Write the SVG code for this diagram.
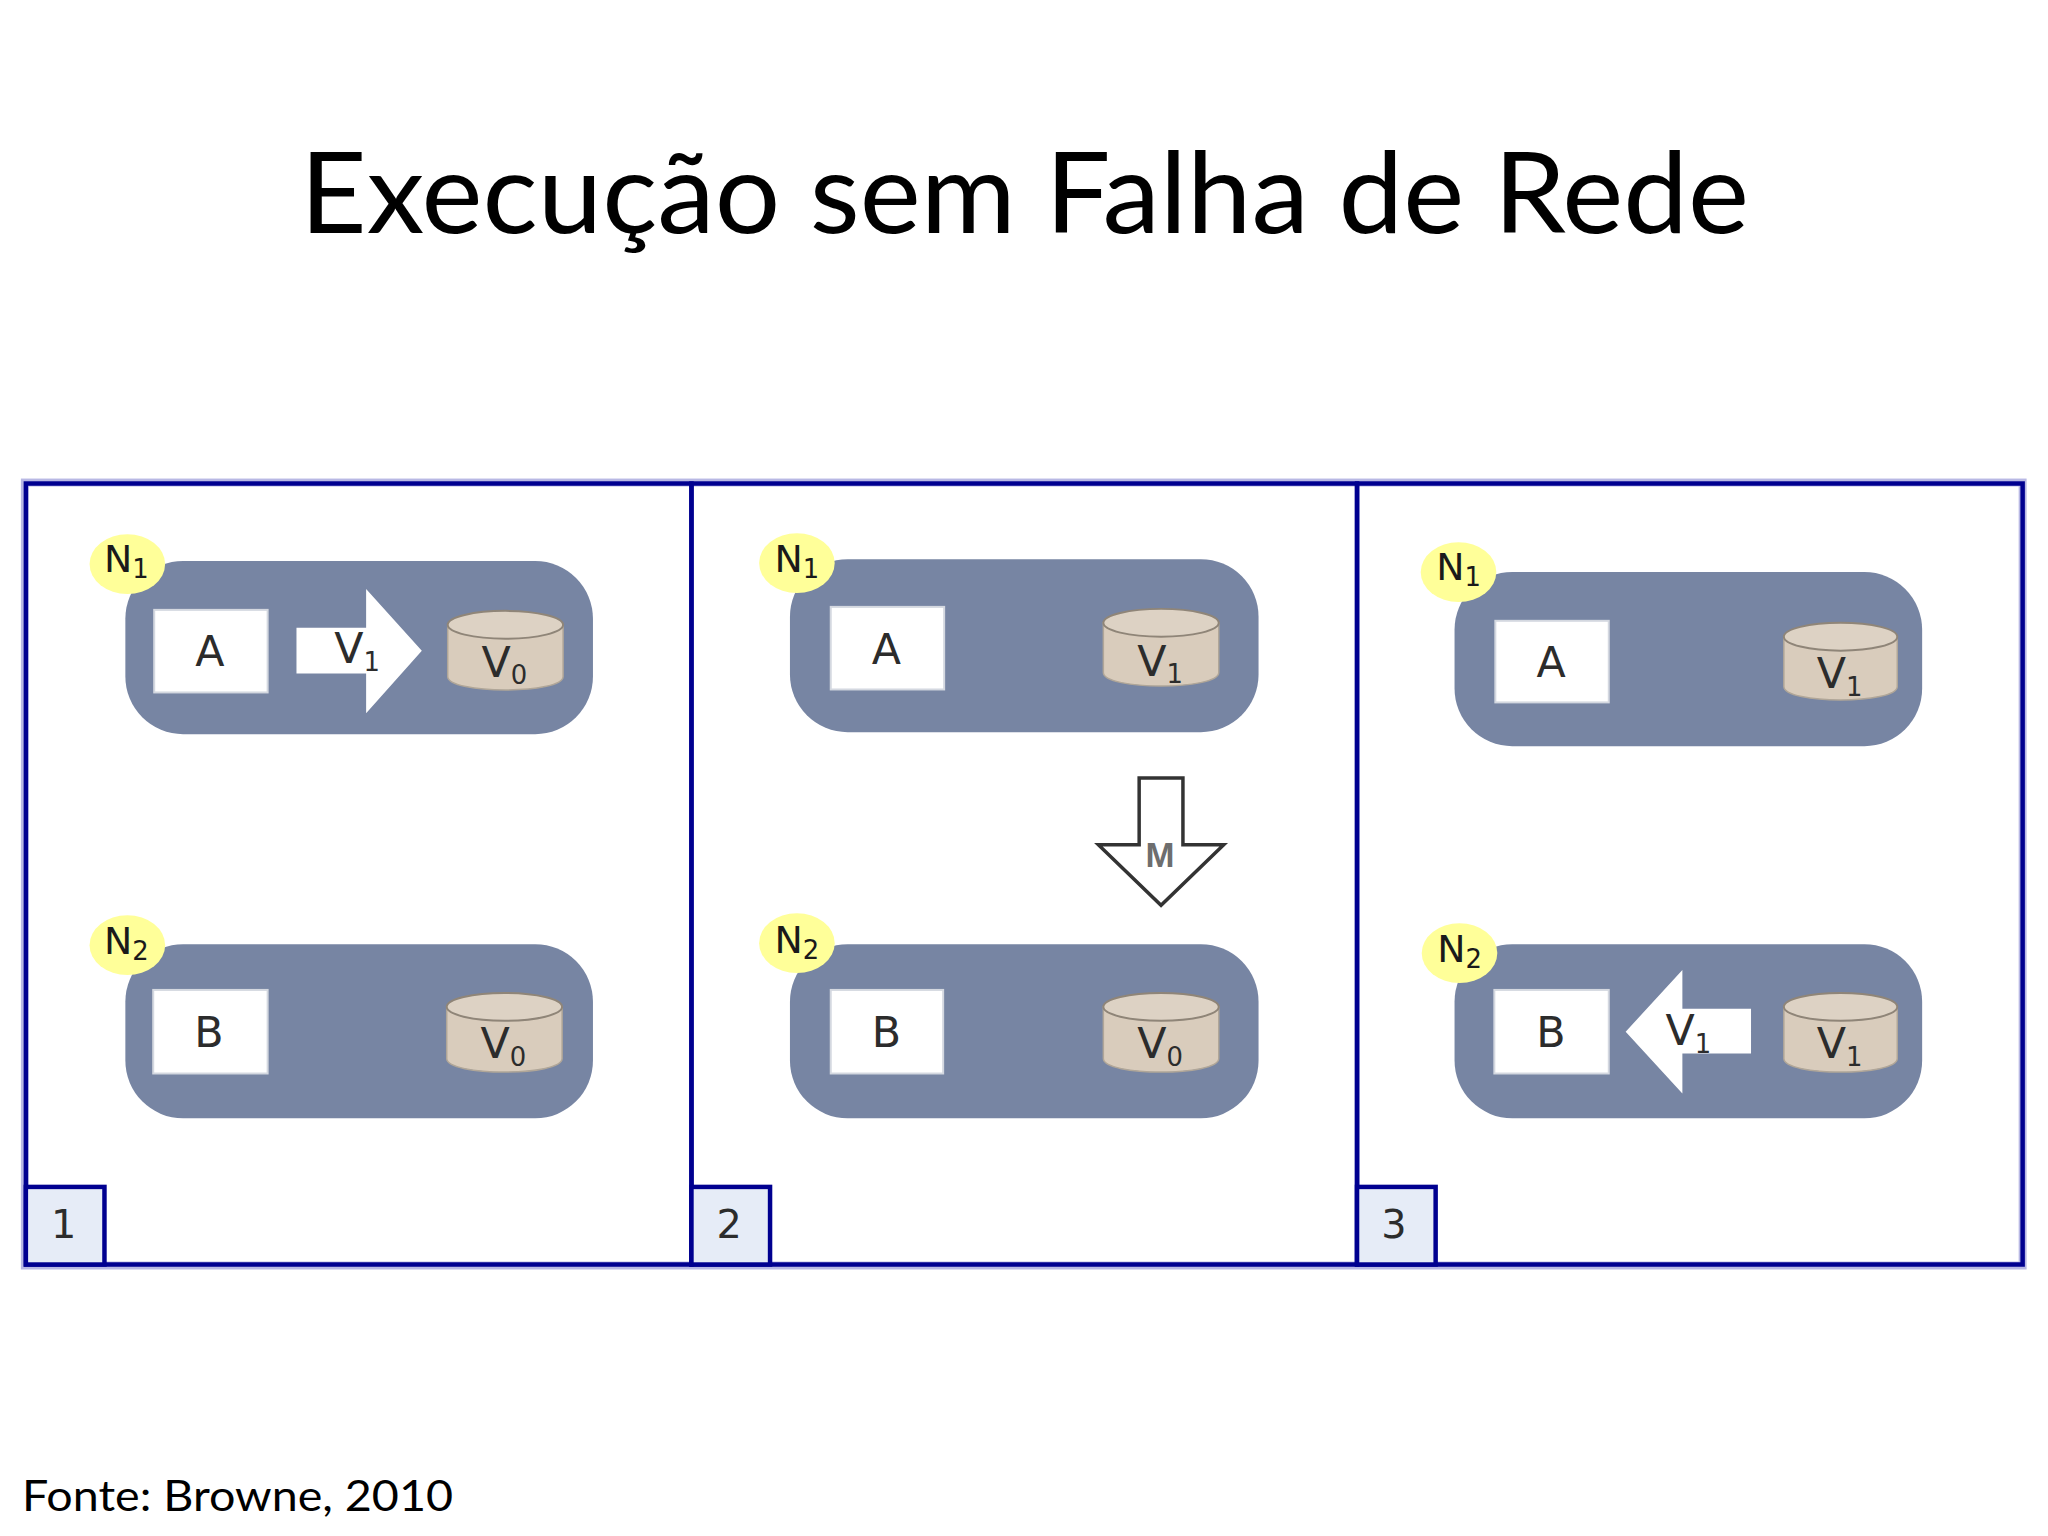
<svg xmlns="http://www.w3.org/2000/svg" width="2048" height="1536" viewBox="0 0 2048 1536">
<style>
.t{font-family:"DejaVu Sans",sans-serif;fill:#2c2c2c;text-anchor:middle}
.lbl{font-size:43px}
.step-n{font-size:40px}
.n{font-size:38px;fill:#1a1a1a}
.sub{font-size:26px}
.frame{fill:none;stroke:#000090;stroke-width:4.5}
.halo{fill:none;stroke:#b8b8e4;stroke-width:8}
.pill{fill:#7785a3}
.box{fill:#fff;stroke:#d4d8e0;stroke-width:2}
.body{fill:#d9ccbc;stroke:#b0a698;stroke-width:1.5}
.top{fill:#ddd2c4;stroke:#8f8578;stroke-width:2}
.badge{fill:#ffff99}
.step{fill:#e6ecf7;stroke:#000090;stroke-width:4.5}
.arrow{fill:#fff}
.m{fill:#fff;stroke:#333;stroke-width:3.5}
.mt{font-family:"Liberation Sans",sans-serif;font-size:35px;fill:#6e6e6e;font-weight:bold}
.title{font-family:Lato,"Liberation Sans",sans-serif;font-size:113px;fill:#000}
.foot{font-family:Lato,"Liberation Sans",sans-serif;font-size:43px;fill:#000}
</style>
<rect width="2048" height="1536" fill="#fff"/>
<text id="title" class="title" x="300" y="233" textLength="1449" lengthAdjust="spacingAndGlyphs">Execução sem Falha de Rede</text>
<g id="diagram" transform="scale(.9949)">
<g id="frames">
<rect class="halo" x="25" y="485" width="2008" height="787"/>
<rect class="frame" x="26" y="486" width="669" height="785"/>
<rect class="frame" x="695" y="486" width="669" height="785"/>
<rect class="frame" x="1364" y="486" width="669" height="785"/>
</g>
<g id="step1"><rect class="step" x="26" y="1193" width="79" height="78"/><text class="t step-n" x="64" y="1244">1</text></g>
<g id="step2"><rect class="step" x="695" y="1193" width="79" height="78"/><text class="t step-n" x="733" y="1244">2</text></g>
<g id="step3"><rect class="step" x="1364" y="1193" width="79" height="78"/><text class="t step-n" x="1401" y="1244">3</text></g>

<g id="p1-n1">
<rect class="pill" x="126" y="564" width="470" height="174" rx="58"/>
<ellipse class="badge" cx="128" cy="567" rx="38" ry="30"/>
<text class="t n" x="127" y="575">N<tspan class="sub" dy="6">1</tspan></text>
<rect class="box" x="155" y="613" width="114" height="83"/>
<text class="t lbl" x="211" y="669">A</text>
<path class="body" d="M450 628V680C450 698 566 698 566 680V628Z"/>
<ellipse class="top" cx="508" cy="628" rx="58" ry="14"/>
<text class="t lbl" x="507" y="680">V<tspan class="sub" dy="8">0</tspan></text>
</g>
<g id="p1-n2">
<rect class="pill" x="126" y="949" width="470" height="175" rx="58"/>
<ellipse class="badge" cx="128" cy="950" rx="38" ry="30"/>
<text class="t n" x="127" y="959">N<tspan class="sub" dy="6">2</tspan></text>
<rect class="box" x="154" y="995" width="115" height="84"/>
<text class="t lbl" x="210" y="1052">B</text>
<path class="body" d="M449 1012V1064C449 1082 565 1082 565 1064V1012Z"/>
<ellipse class="top" cx="507" cy="1012" rx="58" ry="14"/>
<text class="t lbl" x="506" y="1063">V<tspan class="sub" dy="8">0</tspan></text>
</g>

<g id="p2-n1">
<rect class="pill" x="794" y="562" width="471" height="174" rx="58"/>
<ellipse class="badge" cx="801" cy="566" rx="38" ry="30"/>
<text class="t n" x="801" y="575">N<tspan class="sub" dy="6">1</tspan></text>
<rect class="box" x="835" y="610" width="114" height="83"/>
<text class="t lbl" x="891" y="667">A</text>
<path class="body" d="M1109 626V676C1109 694 1225 694 1225 676V626Z"/>
<ellipse class="top" cx="1167" cy="626" rx="58" ry="14"/>
<text class="t lbl" x="1166" y="679">V<tspan class="sub" dy="8">1</tspan></text>
</g>
<g id="p2-n2">
<rect class="pill" x="794" y="949" width="471" height="175" rx="58"/>
<ellipse class="badge" cx="801" cy="948" rx="38" ry="30"/>
<text class="t n" x="801" y="958">N<tspan class="sub" dy="6">2</tspan></text>
<rect class="box" x="835" y="995" width="113" height="84"/>
<text class="t lbl" x="891" y="1052">B</text>
<path class="body" d="M1109 1012V1064C1109 1082 1225 1082 1225 1064V1012Z"/>
<ellipse class="top" cx="1167" cy="1012" rx="58" ry="14"/>
<text class="t lbl" x="1166" y="1063">V<tspan class="sub" dy="8">0</tspan></text>
</g>

<g id="p3-n1">
<rect class="pill" x="1462" y="575" width="470" height="175" rx="58"/>
<ellipse class="badge" cx="1466" cy="575" rx="38" ry="30"/>
<text class="t n" x="1466" y="583">N<tspan class="sub" dy="6">1</tspan></text>
<rect class="box" x="1503" y="624" width="114" height="82"/>
<text class="t lbl" x="1559" y="680">A</text>
<path class="body" d="M1793 640V690C1793 708 1907 708 1907 690V640Z"/>
<ellipse class="top" cx="1850" cy="640" rx="57" ry="14"/>
<text class="t lbl" x="1849" y="692">V<tspan class="sub" dy="8">1</tspan></text>
</g>
<g id="p3-n2">
<rect class="pill" x="1462" y="949" width="470" height="175" rx="58"/>
<ellipse class="badge" cx="1467" cy="958" rx="38" ry="30"/>
<text class="t n" x="1467" y="967">N<tspan class="sub" dy="6">2</tspan></text>
<rect class="box" x="1502" y="995" width="115" height="84"/>
<text class="t lbl" x="1559" y="1052">B</text>
<path class="body" d="M1793 1012V1064C1793 1082 1907 1082 1907 1064V1012Z"/>
<ellipse class="top" cx="1850" cy="1012" rx="57" ry="14"/>
<text class="t lbl" x="1849" y="1063">V<tspan class="sub" dy="8">1</tspan></text>
</g>

<g id="connectors">
<path class="arrow" d="M298 631H368V592L424 654L368 717V677H298Z"/>
<text class="t lbl" x="359" y="666">V<tspan class="sub" dy="8">1</tspan></text>
<path class="arrow" d="M1760 1014H1691V975L1634 1037L1691 1099V1059H1760Z"/>
<text class="t lbl" x="1697" y="1050">V<tspan class="sub" dy="8">1</tspan></text>
<path class="m" d="M1145 782H1189V849H1230L1167 910L1104 849H1145Z"/>
<text class="t mt" x="1166" y="871">M</text>
</g>
</g>
<text id="source" class="foot" x="22" y="1511" textLength="431" lengthAdjust="spacingAndGlyphs">Fonte: Browne, 2010</text>
</svg>
